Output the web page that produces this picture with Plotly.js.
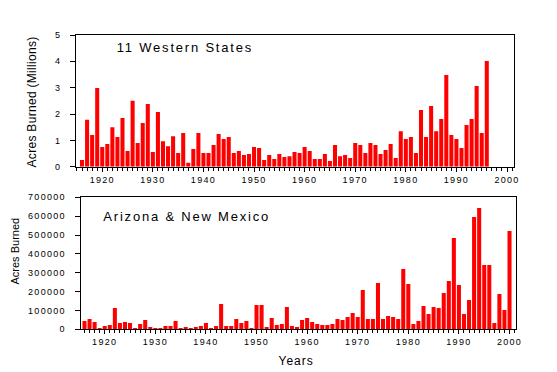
<!DOCTYPE html>
<html><head><meta charset="utf-8">
<script src="https://cdn.plot.ly/plotly-3.0.1.min.js"></script>
<style>
html,body{margin:0;padding:0;background:#fff;}
#chart{width:557px;height:372px;}
.xtick text,.ytick text,.x2tick text,.y2tick text{letter-spacing:1.3px;}
</style>
</head><body>
<div id="chart"></div>
<script>
// 11 Western States, acres burned (millions), 1916-1996
const westYears = [];
for (let y = 1916; y <= 1996; y++) westYears.push(y);
const westAcres = [
 0.25,1.78,1.2,2.99,0.75,0.86,1.5,1.13,1.85,0.6,
 2.5,0.9,1.66,2.38,0.56,2.08,0.97,0.78,1.16,0.52,
 1.28,0.15,0.67,1.28,0.52,0.52,0.82,1.24,1.05,1.13,
 0.52,0.6,0.44,0.48,0.75,0.71,0.25,0.44,0.29,0.48,
 0.37,0.4,0.56,0.52,0.75,0.6,0.29,0.29,0.48,0.22,
 0.82,0.4,0.44,0.33,0.9,0.82,0.52,0.9,0.82,0.48,
 0.63,0.86,0.33,1.35,1.05,1.13,0.52,2.15,1.13,2.3,
 1.35,1.81,3.48,1.2,1.05,0.71,1.58,1.81,3.06,1.28,
 4.01
];
// Arizona & New Mexico, acres burned, 1916-2000
const azYears = [];
for (let y = 1916; y <= 2000; y++) azYears.push(y);
const azAcres = [
 44000,55000,39000,7000,18000,23000,113000,34000,39000,34000,
 7000,28000,49000,12000,7000,7000,18000,18000,44000,7000,
 12000,7000,12000,18000,34000,7000,18000,134000,18000,18000,
 55000,34000,44000,7000,129000,129000,12000,60000,23000,28000,
 118000,18000,12000,49000,60000,39000,28000,23000,23000,28000,
 55000,49000,65000,87000,65000,208000,55000,55000,246000,55000,
 71000,65000,55000,320000,240000,28000,44000,124000,81000,118000,
 113000,193000,256000,484000,235000,81000,155000,595000,643000,341000,
 341000,34000,187000,102000,521000
];

const W = 557, H = 372;
const px = v => v / W;
const py = v => 1 - v / H;
const font = "'Liberation Sans', Arial, Helvetica, sans-serif";

const axisCommon = {
  showline: true, mirror: true, linecolor: '#000', linewidth: 1,
  showgrid: false, zeroline: false, ticks: 'outside', tickcolor: '#000',
  tickwidth: 1, tickfont: {family: font, size: 9, color: '#000'}
};
const xCommon = Object.assign({}, axisCommon, {
  dtick: 10, tick0: 1920, ticklen: 4, ticklabelstandoff: 0,
  minor: {dtick: 1, ticks: 'outside', ticklen: 3, tickcolor: '#000', tickwidth: 1, showgrid: false}
});
const yCommon = Object.assign({}, axisCommon, {ticklen: 5, ticklabelstandoff: 7});

const data = [
  {type: 'bar', x: westYears, y: westAcres, xaxis: 'x', yaxis: 'y',
   width: 0.8, marker: {color: '#FF0000', line: {width: 0}}},
  {type: 'bar', x: azYears, y: azAcres, xaxis: 'x2', yaxis: 'y2',
   width: 0.8, marker: {color: '#FF0000', line: {width: 0}}}
];

const layout = {
  width: W, height: H, margin: {l: 0, r: 0, t: 0, b: 0},
  paper_bgcolor: '#fff', plot_bgcolor: '#fff', showlegend: false,
  font: {family: font, color: '#000'},
  xaxis: Object.assign({}, xCommon, {domain: [px(76), px(514)], anchor: 'y', range: [1914.81, 2001.38]}),
  yaxis: Object.assign({}, yCommon, {domain: [py(166.7), py(35)], anchor: 'x', range: [0, 5], dtick: 1, tick0: 0}),
  xaxis2: Object.assign({}, xCommon, {domain: [px(80.7), px(516)], anchor: 'y2', range: [1915.25, 2001.28]}),
  yaxis2: Object.assign({}, yCommon, {domain: [py(329.3), py(197.3)], anchor: 'x2', range: [0, 700000], dtick: 100000, tick0: 0, tickformat: 'd'}),
  annotations: [
    {text: '11 Western States', xref: 'paper', yref: 'paper', x: px(116.7), y: py(47), xanchor: 'left', yanchor: 'middle', showarrow: false, font: {family: font, size: 13, color: '#000'}},
    {text: 'Arizona & New Mexico', xref: 'paper', yref: 'paper', x: px(103.3), y: py(216), xanchor: 'left', yanchor: 'middle', showarrow: false, font: {family: font, size: 13, color: '#000'}},
    {text: 'Acres Burned (Millions)', xref: 'paper', yref: 'paper', x: px(32), y: py(102), xanchor: 'center', yanchor: 'middle', textangle: -90, showarrow: false, font: {family: font, size: 12, color: '#000'}},
    {text: 'Acres Burned', xref: 'paper', yref: 'paper', x: px(15), y: py(251.5), xanchor: 'center', yanchor: 'middle', textangle: -90, showarrow: false, font: {family: font, size: 11, color: '#000'}},
    {text: 'Years', xref: 'paper', yref: 'paper', x: px(296), y: py(361), xanchor: 'center', yanchor: 'middle', showarrow: false, font: {family: font, size: 12, color: '#000'}}
  ]
};

// letter spacing per label; panel labels keep their left edge
const spacing = {'11 Western States': ['1.8px', 116.7], 'Arizona & New Mexico': ['1.8px', 103.3], 'Years': ['1px', null], 'Acres Burned (Millions)': ['0.3px', null]};
Plotly.newPlot('chart', data, layout, {staticPlot: true, displayModeBar: false}).then(gd => {
  const root = gd.getBoundingClientRect();
  gd.querySelectorAll('.annotation-text').forEach(t => {
    const s = spacing[t.textContent];
    if (!s) return;
    t.style.letterSpacing = s[0];
    if (s[1] !== null) {
      const left = t.getBoundingClientRect().left - root.left;
      const x0 = parseFloat(t.getAttribute('x')) || 0;
      t.setAttribute('x', x0 + (s[1] - left));
    }
  });
});
</script>
</body></html>
